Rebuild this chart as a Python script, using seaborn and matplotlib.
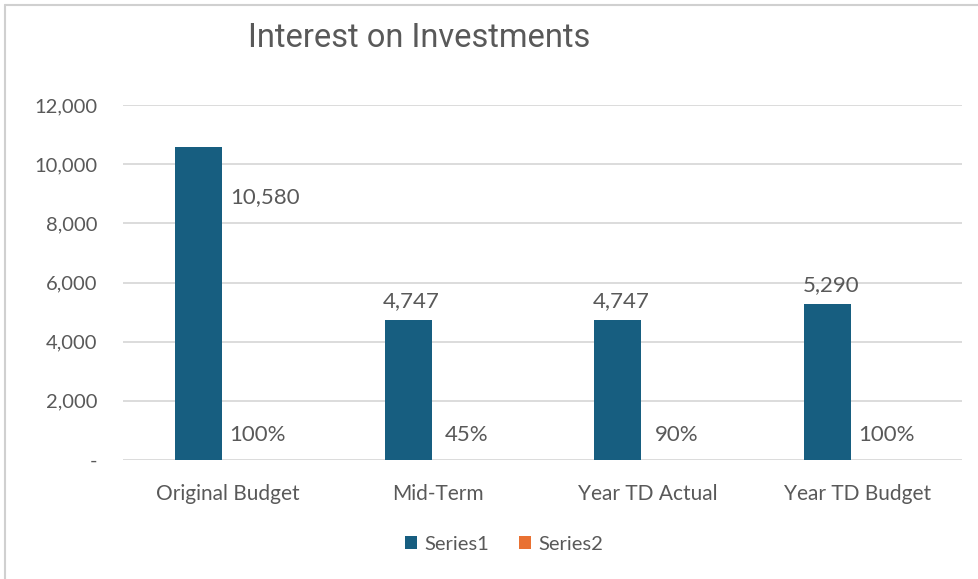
import matplotlib
matplotlib.use("Agg")
import matplotlib.pyplot as plt
import seaborn as sns
import pandas as pd
from matplotlib.lines import Line2D
from matplotlib.patches import Patch
from matplotlib.ticker import FuncFormatter

categories = ["Original Budget", "Mid-Term", "Year TD Actual", "Year TD Budget"]
series1 = [10580, 4747, 4747, 5290]
series2 = [1.00, 0.45, 0.90, 1.00]
series_names = ["Series1", "Series2"]
yticks = [0, 2000, 4000, 6000, 8000, 10000, 12000]

BLUE = "#175E80"
ORANGE = "#E97132"
TEXT = "#595959"
GRID = "#D9D9D9"

df = pd.DataFrame({
    "category": categories * 2,
    "series": [series_names[0]] * len(categories) + [series_names[1]] * len(categories),
    "value": series1 + series2,
})

sns.set_theme(style="white")
plt.rcParams["font.family"] = ["Lato", "DejaVu Sans"]

fig = plt.figure(figsize=(9.79, 5.79), dpi=100)
ax = fig.add_axes([123 / 979, 1 - 460 / 579, (962 - 123) / 979, (460 - 105) / 579])

sns.barplot(data=df, x="category", y="value", hue="series", order=categories,
            hue_order=series_names, palette=[BLUE, ORANGE], width=0.561, gap=0.2,
            legend=False, ax=ax, saturation=1, edgecolor="none", linewidth=0)

ax.set_xlim(-0.5, len(categories) - 0.5)
ax.set_ylim(0, 12000)
ax.set_yticks(yticks)
ax.yaxis.set_major_formatter(FuncFormatter(lambda v, p: "-" if v == 0 else f"{v:,.0f}"))
ax.grid(axis="y", color=GRID, linewidth=1.3)
ax.set_axisbelow(True)
for s in ax.spines.values():
    s.set_visible(False)
ax.set_xlabel("")
ax.set_ylabel("")
ax.tick_params(axis="y", length=0, pad=18.5, labelsize=14.5, labelcolor=TEXT)
ax.tick_params(axis="x", length=0, pad=17, labelsize=15, labelcolor=TEXT)

# Data labels
s1_bars = ax.containers[0]
s2_bars = ax.containers[1]
for i, (bar, v) in enumerate(zip(s1_bars, series1)):
    cx = bar.get_x() + bar.get_width() / 2
    if i == 0:
        ax.annotate(f"{v:,}", xy=(bar.get_x() + bar.get_width(), v), xytext=(8, -50),
                    textcoords="offset pixels", ha="left", va="center",
                    fontsize=16, color=TEXT)
    else:
        ax.annotate(f"{v:,}", xy=(cx, v), xytext=(3, 18), textcoords="offset pixels",
                    ha="center", va="center", fontsize=16, color=TEXT)
for bar, v in zip(s2_bars, series2):
    cx = bar.get_x() + bar.get_width() / 2
    ax.annotate(f"{v:.0%}", xy=(cx, v), xytext=(0, 25), textcoords="offset pixels",
                ha="center", va="center", fontsize=16, color=TEXT)

# Title
fig.text(419 / 979, 1 - 38 / 579, "Interest on Investments", ha="center", va="center",
         fontsize=23.5, color=TEXT, family=["Roboto", "DejaVu Sans"])

# Legend
handles = [Patch(facecolor=BLUE, edgecolor="none"), Patch(facecolor=ORANGE, edgecolor="none")]
fig.legend(handles, series_names, loc="center", bbox_to_anchor=(504 / 979, 1 - 544 / 579),
           ncol=2, frameon=False, fontsize=14.5, labelcolor=TEXT, handlelength=0.6,
           handleheight=0.6, handletextpad=0.35, columnspacing=1.5)

# Chart-area border
fig.add_artist(Line2D([5 / 979, 1], [1 - 5 / 579, 1 - 5 / 579], transform=fig.transFigure,
                      color="#D0D0D0", linewidth=1.5))
fig.add_artist(Line2D([5 / 979, 5 / 979], [0, 1 - 5 / 579], transform=fig.transFigure,
                      color="#D0D0D0", linewidth=1.5))

fig.savefig("out.png", dpi=100)
